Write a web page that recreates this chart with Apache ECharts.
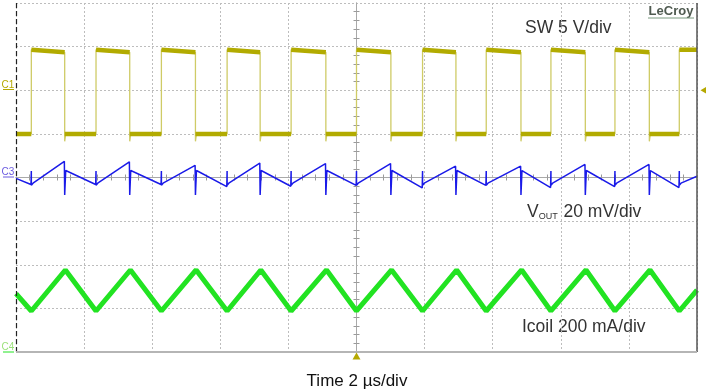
<!DOCTYPE html>
<html>
<head>
<meta charset="utf-8">
<script src="https://cdn.jsdelivr.net/npm/echarts@6/dist/echarts.min.js"></script>
<style>
html,body{margin:0;padding:0;background:#fff;}
#c{width:706px;height:389px;}
</style>
</head>
<body>
<div id="c"></div>
<script>
// ---- data (time in µs, vertical in divisions, screen centre = 0) ----
const risingEdges  = [-9.55, -7.65, -5.73, -3.80, -1.92, 0.00, 1.94, 3.81, 5.71, 7.59, 9.48];
const fallingEdges = [-8.57, -6.66, -4.73, -2.83, -0.90, 1.01, 2.92, 4.83, 6.72, 8.60];

const swHigh = [2.93, 2.87];      // level just after rising edge, just before falling edge
const swLow = 1.00;
const swUndershoot = 0.83;

const voutStart = -0.02;
const voutEnd = 0.03;
const voutValleys = [-0.16, -0.16, -0.16, -0.21, -0.20, -0.18, -0.24, -0.18, -0.23, -0.21, -0.23];
const voutPeaks = [0.37, 0.36, 0.28, 0.33, 0.32, 0.32, 0.26, 0.26, 0.30, 0.30];
const voutRiseSpike = [0.15, -0.18];
const voutAfterRise = -0.13;
const voutFallSpike = -0.40;
const voutAfterFall = 0.16;

const icoilStart = -2.66;
const icoilEnd = -2.58;
const icoilPeaks = [-2.12, -2.12, -2.12, -2.12, -2.12, -2.12, -2.12, -2.12, -2.12, -2.12];
const icoilValleys = [-3.06, -3.06, -3.06, -3.06, -3.06, -3.06, -3.06, -3.06, -3.06, -3.06, -3.06];

const xTicks = [-10, 10, 2];
const yTicks = [-4, 4, 1];

// ---- build series from the arrays ----
const swThin = [[-10, swLow]];
const swFlat = [[-10, swLow]];
risingEdges.forEach((r, i) => {
  swThin.push([r, swLow], [r, swHigh[0]]);
  swFlat.push([r, swLow], [r, null], [r, swHigh[0]]);
  if (i < fallingEdges.length) {
    const f = fallingEdges[i];
    swThin.push([f, swHigh[1]], [f, swUndershoot], [f + 0.03, swLow]);
    swFlat.push([f, swHigh[1]], [f, null], [f, swLow]);
  } else {
    swThin.push([10, swHigh[0]]);
    swFlat.push([10, swHigh[0]]);
  }
});

const vout = [[-10, voutStart]];
risingEdges.forEach((r, i) => {
  vout.push([r - 0.01, voutValleys[i]], [r, voutRiseSpike[0]], [r, voutRiseSpike[1]], [r + 0.05, voutAfterRise]);
  if (i < fallingEdges.length) {
    const f = fallingEdges[i];
    vout.push([f - 0.01, voutPeaks[i]], [f, voutFallSpike], [f + 0.03, voutAfterFall]);
  } else {
    vout.push([10, voutEnd]);
  }
});

const icoil = [[-10, icoilStart]];
risingEdges.forEach((r, i) => {
  icoil.push([r, icoilValleys[i]]);
  if (i < fallingEdges.length) icoil.push([fallingEdges[i] + 0.02, icoilPeaks[i]]);
});
icoil.push([10, icoilEnd]);

const FONT = '"Liberation Sans", Arial, sans-serif';
const chart = echarts.init(document.getElementById('c'), null, {renderer: 'canvas'});

const axisCommonX = {
  type: 'value', min: xTicks[0], max: xTicks[1], interval: xTicks[2],
  axisLabel: {show: false}, axisTick: {show: false},
  axisLine: {show: true, onZero: true, lineStyle: {color: '#a9a9a9', width: 1}},
  minorTick: {show: true, splitNumber: 5, length: 3, lineStyle: {color: '#9a9a9a'}}
};
const axisCommonY = {
  type: 'value', min: yTicks[0], max: yTicks[1], interval: yTicks[2],
  axisLabel: {show: false}, axisTick: {show: false},
  axisLine: {show: true, onZero: true, lineStyle: {color: '#a9a9a9', width: 1}},
  minorTick: {show: true, splitNumber: 5, length: 3, lineStyle: {color: '#9a9a9a'}}
};

chart.setOption({
  animation: false,
  backgroundColor: '#ffffff',
  grid: {left: 16, right: 9, top: 3, bottom: 37},
  xAxis: [
    Object.assign({}, axisCommonX, {position: 'bottom',
      splitLine: {show: true, lineStyle: {color: '#bdbdbd', type: [2, 2], width: 1}}}),
    Object.assign({}, axisCommonX, {position: 'top', splitLine: {show: false}})
  ],
  yAxis: [
    Object.assign({}, axisCommonY, {position: 'left',
      splitLine: {show: true, lineStyle: {color: '#bdbdbd', type: [2, 2], width: 1}}}),
    Object.assign({}, axisCommonY, {position: 'right', splitLine: {show: false}})
  ],
  series: [
    {
      type: 'line', data: [], silent: true,
      markLine: {
        silent: true, symbol: 'none', label: {show: false}, animation: false,
        data: [
          {xAxis: -10, lineStyle: {color: '#222', type: [5, 3], width: 1.2}},
          {xAxis: 10, lineStyle: {color: '#555', type: 'solid', width: 1.5}},
          {yAxis: -4, lineStyle: {color: '#b5b5b5', type: 'solid', width: 2}}
        ]
      },
      markPoint: {
        silent: true, label: {show: false},
        data: [
          {coord: [0, -4], symbol: 'triangle', symbolSize: [8, 7], symbolOffset: [0, 4],
           itemStyle: {color: '#b5a800'}},
          {coord: [10, 2], symbol: 'triangle', symbolSize: [8, 7], symbolRotate: 90, symbolOffset: [7, 0],
           itemStyle: {color: '#b5a800'}}
        ]
      }
    },
    {
      name: 'Icoil', type: 'line', data: icoil, showSymbol: false, symbol: 'none',
      lineStyle: {color: '#22e322', width: 5}
    },
    {
      name: 'VOUT', type: 'line', data: vout, showSymbol: false, symbol: 'none',
      lineStyle: {color: '#1a1ae8', width: 1.5}
    },
    {
      name: 'SW edges', type: 'line', data: swThin, showSymbol: false, symbol: 'none',
      lineStyle: {color: '#cfcb66', width: 1.3}
    },
    {
      name: 'SW', type: 'line', data: swFlat, showSymbol: false, symbol: 'none', connectNulls: false,
      lineStyle: {color: '#b2ab00', width: 4.5}
    }
  ],
  graphic: [
    {type: 'text', x: 525, y: 28, style: {text: 'SW 5 V/div', font: '17.5px ' + FONT, fill: '#333', textVerticalAlign: 'middle'}},
    {type: 'text', x: 527, y: 212, style: {
      text: '{v|V}{s|OUT}{v| 20 mV/div}', textVerticalAlign: 'middle', backgroundColor: '#fff',
      rich: {v: {font: '17.5px ' + FONT, fill: '#333'}, s: {font: '9px ' + FONT, fill: '#333', padding: [9, 1, 0, 0]}}
    }},
    {type: 'text', x: 522, y: 327, style: {text: 'Icoil 200 mA/div', font: '17.5px ' + FONT, fill: '#333', textVerticalAlign: 'middle', backgroundColor: '#fff'}},
    {type: 'text', x: 357, y: 381, style: {text: 'Time 2 µs/div', font: '17px ' + FONT, fill: '#111', textAlign: 'center', textVerticalAlign: 'middle'}},
    {type: 'text', x: 671, y: 11, style: {text: 'LeCroy', font: 'bold 13px ' + FONT, fill: '#4f5a50', textAlign: 'center', textVerticalAlign: 'middle'}},
    {type: 'line', shape: {x1: 648, y1: 18, x2: 694, y2: 18}, style: {stroke: '#7a9a80', lineWidth: 1}},
    {type: 'text', x: 8, y: 85, style: {text: 'C1', font: '10px ' + FONT, fill: '#b5a800', textAlign: 'center', textVerticalAlign: 'middle'}},
    {type: 'line', shape: {x1: 3, y1: 89.5, x2: 14, y2: 89.5}, style: {stroke: '#b5a800', lineWidth: 1}},
    {type: 'text', x: 8, y: 172, style: {text: 'C3', font: '10px ' + FONT, fill: '#6a5ae0', textAlign: 'center', textVerticalAlign: 'middle'}},
    {type: 'line', shape: {x1: 3, y1: 177, x2: 14, y2: 177}, style: {stroke: '#6a5ae0', lineWidth: 1}},
    {type: 'text', x: 8, y: 347, style: {text: 'C4', font: '10px ' + FONT, fill: '#9be07a', textAlign: 'center', textVerticalAlign: 'middle'}},
    {type: 'line', shape: {x1: 3, y1: 352, x2: 14, y2: 352}, style: {stroke: '#22e322', lineWidth: 1}}
  ]
});
</script>
</body>
</html>
